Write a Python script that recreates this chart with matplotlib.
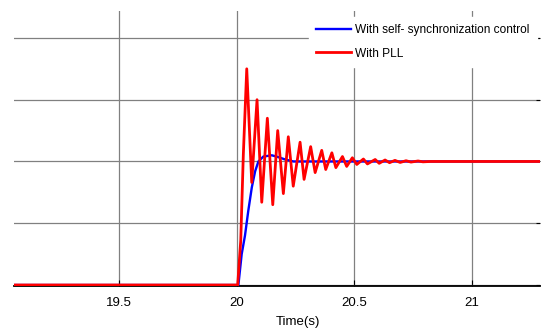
import matplotlib
matplotlib.use("Agg")
import matplotlib.pyplot as plt

# ---- data ----
blue_t = [19.0, 20.007, 20.021, 20.035, 20.049, 20.064, 20.078, 20.092, 20.113, 20.149,
          20.177, 20.206, 20.241, 20.30, 21.3]
blue_y = [0.0, 0.0, 0.25, 0.40, 0.60, 0.79, 0.92, 1.00, 1.04, 1.05,
          1.035, 1.016, 1.0, 1.0, 1.0]

red_t = [19.0, 20.004, 20.017, 20.028, 20.0425, 20.0637, 20.0862, 20.1062, 20.130, 20.153,
         20.174, 20.198, 20.219, 20.240, 20.269, 20.286, 20.314, 20.333, 20.361, 20.378,
         20.404, 20.421, 20.449, 20.467, 20.491, 20.510, 20.538, 20.555, 20.588, 20.605,
         20.630, 20.649, 20.672, 20.694, 20.719, 20.740, 20.770, 20.791, 20.821, 21.3]
red_y = [0.0, 0.0, 0.36, 1.056, 1.75, 0.83, 1.50, 0.67, 1.35, 0.65,
         1.25, 0.74, 1.20, 0.80, 1.156, 0.855, 1.12, 0.91, 1.09, 0.935,
         1.07, 0.95, 1.04, 0.96, 1.03, 0.976, 1.02, 0.98, 1.016, 0.985,
         1.012, 0.99, 1.009, 0.992, 1.006, 0.995, 1.004, 0.997, 1.0, 1.0]

x_ticks = [19.5, 20, 20.5, 21]
x_ticklabels = ["19.5", "20", "20.5", "21"]
y_ticks = [0, 0.5, 1.0, 1.5, 2.0]
labels = ["With self- synchronization control", "With PLL"]
x_label = "Time(s)"

plt.rcParams["font.family"] = ["Liberation Sans", "DejaVu Sans"]

W, H = 542, 333
fig = plt.figure(figsize=(W / 100, H / 100), dpi=100)
ax = fig.add_axes([14 / W, (H - 286) / H, (540 - 14) / W, (286 - 11) / H])

ax.plot(blue_t, blue_y, color="#0000ff", lw=1.7, label=labels[0], zorder=3)
ax.plot(red_t, red_y, color="#ff0000", lw=2.0, label=labels[1], zorder=4)

ax.set_xlim(19.054, 21.288)
ax.set_ylim(-0.008, 2.218)
ax.set_xticks(x_ticks)
ax.set_xticklabels(x_ticklabels)
ax.set_yticks(y_ticks)
ax.grid(True, color="#808080", lw=0.9)
ax.set_axisbelow(True)

for s in ["top", "left", "right"]:
    ax.spines[s].set_visible(False)
ax.spines["bottom"].set_color("black")
ax.spines["bottom"].set_linewidth(1.3)
ax.spines["bottom"].set_zorder(2)

ax.tick_params(axis="x", direction="in", length=4, width=0.8, labelsize=9.5, pad=8, colors="black")
ax.tick_params(axis="y", direction="in", length=3, width=0.8, left=False, right=True,
               labelleft=False, labelright=False)

ax.text((298 - 14) / (540 - 14), -0.13, x_label, transform=ax.transAxes,
        ha="center", va="center", fontsize=9.5)

leg = ax.legend(loc="upper right", bbox_to_anchor=(0.994, 0.978), borderaxespad=0,
                frameon=True, fancybox=False, edgecolor="white", framealpha=1,
                fontsize=8.6, handlelength=2.9, handletextpad=0.35, labelspacing=0.95,
                borderpad=0.6)
leg.set_zorder(10)

fig.savefig("out.png", dpi=100)
